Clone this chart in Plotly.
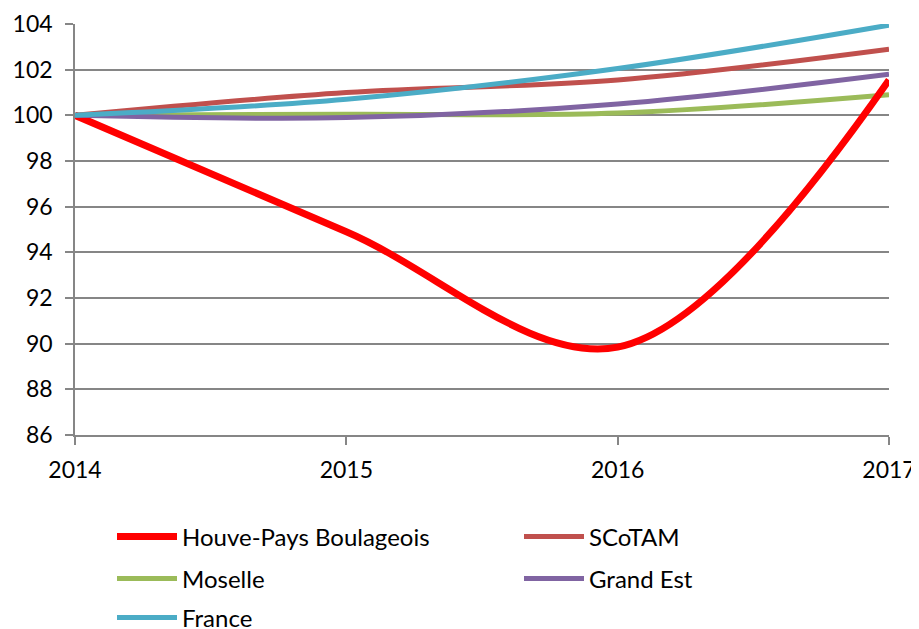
import plotly.graph_objects as go

years = [2014, 2015, 2016, 2017]
houve = [100.0, 94.9, 89.85, 101.55]
scotam = [100.0, 101.0, 101.55, 102.9]
moselle = [100.0, 100.05, 100.1, 100.9]
grand_est = [100.0, 99.9, 100.5, 101.8]
france = [100.0, 100.7, 102.05, 103.95]
y_ticks = [86, 88, 90, 92, 94, 96, 98, 100, 102, 104]
x_ticks = [2014, 2015, 2016, 2017]

# page body has an 8px margin; compensate
OFF = 8
W, H = 919 - OFF, 629 - OFF
ml, mt = 75 - OFF, 24 - OFF
mr = W - (889 - OFF)
mb = H - (435 - OFF)

# legend slot positions in window pixels: (x of symbol start, y of row centre)
slots = [(120, 537), (527, 537), (120, 579), (527, 579), (120, 618)]

series = [
    ("Houve-Pays Boulageois", houve, "#FF0000", 7),
    ("SCoTAM", scotam, "#C0504D", 5),
    ("Moselle", moselle, "#9BBB59", 5),
    ("Grand Est", grand_est, "#8064A2", 5),
    ("France", france, "#4BACC6", 5),
]
draw_order = [1, 2, 0, 3, 4]

FONT = "Lato"
FS = 23
fig = go.Figure()
legends = {}
for i in draw_order:
    name, vals, color, w = series[i]
    key = "legend" if i == 0 else f"legend{i+1}"
    fig.add_trace(go.Scatter(
        x=years, y=vals, name=name, mode="lines",
        line=dict(color=color, width=w, shape="spline", smoothing=1),
        legend=key,
    ))
    sx, sy = slots[i]
    legends[key] = dict(
        orientation="h", xref="container", yref="container",
        x=(sx - OFF - 8) / W, xanchor="left",
        y=1 - (sy - OFF) / H, yanchor="middle",
        itemwidth=60,
        font=dict(family=FONT, size=24, color="#000000"),
        bgcolor="rgba(0,0,0,0)",
    )

fig.update_layout(
    width=W, height=H,
    margin=dict(l=ml, r=mr, t=mt, b=mb, autoexpand=False),
    paper_bgcolor="white", plot_bgcolor="white",
    font=dict(family=FONT, size=FS, color="#000000"),
    showlegend=True,
    **legends,
    xaxis=dict(
        range=[2014, 2017], tickvals=x_ticks, ticktext=[str(v) for v in x_ticks],
        showgrid=False, zeroline=False, showline=True, linecolor="#868686", linewidth=1.5,
        ticks="outside", ticklen=8, tickcolor="#868686", tickwidth=1.5,
        ticklabelstandoff=6, tickfont=dict(family=FONT, size=FS),
        automargin=False,
    ),
    yaxis=dict(
        range=[86, 104], tickvals=y_ticks,
        showgrid=True, gridcolor="#868686", gridwidth=1.5, zeroline=False,
        showline=True, linecolor="#868686", linewidth=1.5,
        ticks="outside", ticklen=8, tickcolor="#868686", tickwidth=1.5,
        ticklabelstandoff=8, tickfont=dict(family=FONT, size=FS),
        automargin=False,
    ),
)

fig.write_html("out.html")
